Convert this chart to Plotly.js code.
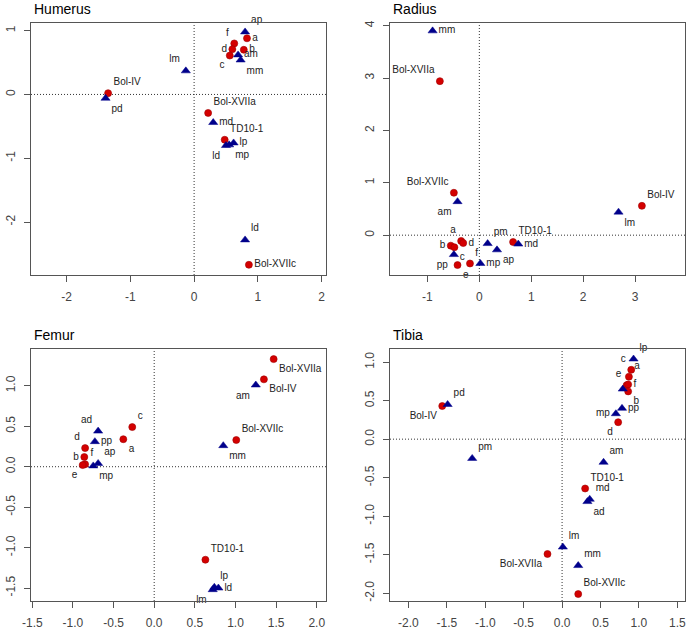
<!DOCTYPE html>
<html>
<head>
<meta charset="utf-8">
<script src="https://cdn.plot.ly/plotly-3.0.1.min.js"></script>
<style>html,body{margin:0;padding:0;background:#fff}#chart{width:689px;height:631px}</style>
</head>
<body>
<div id="chart"></div>
<script>
// ---------------- DATA ----------------
// Humerus
var humSpecLabels = ["a","f","d","b","c","Bol-IV","Bol-XVIIa","TD10-1","Bol-XVIIc"];
var humSpecX = [0.83,0.63,0.60,0.78,0.56,-1.35,0.22,0.48,0.86];
var humSpecY = [0.88,0.80,0.71,0.70,0.61,0.02,-0.29,-0.71,-2.67];
var humVarLabels = ["ap","am","mm","lm","pd","md","lp","mp","ld","ld"];
var humVarX = [0.80,0.69,0.73,-0.13,-1.39,0.30,0.62,0.55,0.50,0.80];
var humVarY = [0.98,0.62,0.54,0.37,-0.06,-0.44,-0.76,-0.79,-0.80,-2.28];

// Radius
var radSpecLabels = ["Bol-XVIIa","Bol-XVIIc","Bol-IV","a","d","b","c","e","f","TD10-1"];
var radSpecX = [-0.76,-0.49,3.13,-0.35,-0.31,-0.55,-0.48,-0.42,-0.18,0.65];
var radSpecY = [2.94,0.81,0.56,-0.11,-0.15,-0.20,-0.23,-0.57,-0.54,-0.13];
var radVarLabels = ["mm","am","lm","pp","mp","pm","ap","md"];
var radVarX = [-0.90,-0.42,2.68,-0.49,0.02,0.16,0.34,0.75];
var radVarY = [3.90,0.64,0.44,-0.37,-0.54,-0.16,-0.28,-0.17];

// Femur
var femSpecLabels = ["Bol-XVIIa","Bol-IV","c","a","d","b","f","e","Bol-XVIIc","TD10-1"];
var femSpecX = [1.47,1.35,-0.27,-0.38,-0.85,-0.86,-0.85,-0.88,1.01,0.63];
var femSpecY = [1.33,1.08,0.49,0.34,0.23,0.12,0.03,0.02,0.33,-1.15];
var femVarLabels = ["am","ad","pp","mm","ap","mp","lp","ld","lm"];
var femVarX = [1.25,-0.69,-0.73,0.85,-0.69,-0.75,0.74,0.79,0.72];
var femVarY = [1.01,0.44,0.31,0.26,0.04,0.01,-1.49,-1.50,-1.52];

// Tibia
var tibSpecLabels = ["c","a","e","f","b","d","Bol-IV","TD10-1","Bol-XVIIa","Bol-XVIIc"];
var tibSpecX = [0.90,0.87,0.84,0.86,0.86,0.73,-1.56,0.30,-0.19,0.21];
var tibSpecY = [0.90,0.81,0.70,0.71,0.62,0.22,0.43,-0.64,-1.49,-2.01];
var tibVarLabels = ["lp","","pp","mp","pd","pm","am","md","ad","lm","mm"];
var tibVarX = [0.93,0.79,0.78,0.70,-1.49,-1.17,0.54,0.36,0.33,0.01,0.21];
var tibVarY = [1.04,0.65,0.40,0.33,0.45,-0.25,-0.30,-0.78,-0.81,-1.40,-1.64];

var panelTitles = ["Humerus","Radius","Femur","Tibia"];

// ---------------- STYLE (label placement) ----------------
var humSpecPos = ["middle right","top left","middle left","middle right","bottom left","top right","top right","top right","middle right"];
var humVarPos = ["top right","middle right","bottom right","top left","bottom right","middle right","middle right","bottom right","bottom left","top right"];
var radSpecPos = ["top left","top left","top right","top left","middle right","middle left","bottom right","bottom right","top right","top right"];
var radVarPos = ["middle right","bottom left","bottom right","bottom left","middle right","top right","bottom right","middle right"];
var femSpecPos = ["bottom right","bottom right","top right","bottom right","top left","middle left","top right","bottom left","top right","top right"];
var femVarPos = ["bottom left","top left","middle right","bottom right","top right","bottom right","top right","middle right","bottom left"];
var tibSpecPos = ["top left","top right","top left","middle right","bottom right","bottom left","bottom left","top right","bottom left","top right"];
var tibVarPos = ["top right","middle right","middle right","middle left","top right","top right","top right","top right","bottom right","top right","top right"];

var FONT = "Liberation Sans, Arial, sans-serif";
var RED = "#D40000", BLUE = "#00008B";

function specTrace(lbl, x, y, pos, ax) {
  return {type:"scatter", mode:"markers+text", x:x, y:y, text:lbl, textposition:pos,
    xaxis:"x"+ax, yaxis:"y"+ax, cliponaxis:false, hoverinfo:"skip", showlegend:false,
    marker:{symbol:"circle", size:7, color:RED, line:{color:"#A00000", width:0.6}},
    textfont:{family:FONT, size:10, color:"#222"}};
}
function varTrace(lbl, x, y, pos, ax) {
  return {type:"scatter", mode:"markers+text", x:x, y:y, text:lbl, textposition:pos,
    xaxis:"x"+ax, yaxis:"y"+ax, cliponaxis:false, hoverinfo:"skip", showlegend:false,
    marker:{symbol:"triangle-up", size:8, color:BLUE, line:{color:BLUE, width:0.5}},
    textfont:{family:FONT, size:10, color:"#222"}};
}

var data = [
  specTrace(humSpecLabels, humSpecX, humSpecY, humSpecPos, ""),
  varTrace(humVarLabels, humVarX, humVarY, humVarPos, ""),
  specTrace(radSpecLabels, radSpecX, radSpecY, radSpecPos, "2"),
  varTrace(radVarLabels, radVarX, radVarY, radVarPos, "2"),
  specTrace(femSpecLabels, femSpecX, femSpecY, femSpecPos, "3"),
  varTrace(femVarLabels, femVarX, femVarY, femVarPos, "3"),
  specTrace(tibSpecLabels, tibSpecX, tibSpecY, tibSpecPos, "4"),
  varTrace(tibVarLabels, tibVarX, tibVarY, tibVarPos, "4")
];

var W = 689, H = 631;
function ax(domain, range, vals, txt, anchor, isY) {
  var a = {domain:domain, range:range, anchor:anchor, showgrid:false, zeroline:false,
    showline:true, mirror:true, linecolor:"#555", linewidth:1,
    ticks:"outside", ticklen:6, tickcolor:"#555", tickwidth:1,
    tickmode:"array", tickvals:vals, ticktext:txt,
    tickfont:{family:FONT, size:12, color:"#444"}, fixedrange:true};
  if (isY) { a.tickangle = -90; a.ticklabelstandoff = 4; }
  else { a.ticklabelstandoff = 5; }
  return a;
}
var xL = [31/W, 326/W], xR = [390/W, 685/W];
var yT = [(H-275)/H, (H-23)/H], yB = [(H-601)/H, (H-349)/H];

var layout = {
  width:W, height:H, margin:{l:0,r:0,t:0,b:0}, paper_bgcolor:"#fff", plot_bgcolor:"#fff",
  showlegend:false,
  xaxis: ax(xL, [-2.56, 2.07], [-2,-1,0,1,2], ["-2","-1","0","1","2"], "y", false),
  yaxis: ax(yT, [-2.83, 1.12], [-2,-1,0,1], ["-2","-1","0","1"], "x", true),
  xaxis2: ax(xR, [-1.72, 3.96], [-1,0,1,2,3], ["-1","0","1","2","3"], "y2", false),
  yaxis2: ax(yT, [-0.76, 4.05], [0,1,2,3,4], ["0","1","2","3","4"], "x2", true),
  xaxis3: ax(xL, [-1.516, 2.114], [-1.5,-1,-0.5,0,0.5,1,1.5,2], ["-1.5","-1.0","-0.5","0.0","0.5","1.0","1.5","2.0"], "y3", false),
  yaxis3: ax(yB, [-1.66, 1.455], [-1.5,-1,-0.5,0,0.5,1], ["-1.5","-1.0","-0.5","0.0","0.5","1.0"], "x3", true),
  xaxis4: ax(xR, [-2.24, 1.60], [-2,-1.5,-1,-0.5,0,0.5,1,1.5], ["-2.0","-1.5","-1.0","-0.5","0.0","0.5","1.0","1.5"], "y4", false),
  yaxis4: ax(yB, [-2.10, 1.17], [-2,-1.5,-1,-0.5,0,0.5,1], ["-2.0","-1.5","-1.0","-0.5","0.0","0.5","1.0"], "x4", true),
  shapes: [],
  annotations: []
};
var axIds = ["", "2", "3", "4"];
axIds.forEach(function(id){
  layout.shapes.push({type:"line", xref:"x"+id, yref:"y"+id+" domain", x0:0, x1:0, y0:0, y1:1,
    line:{color:"#333", width:1, dash:"1px,2px"}, layer:"below"});
  layout.shapes.push({type:"line", xref:"x"+id+" domain", yref:"y"+id, x0:0, x1:1, y0:0, y1:0,
    line:{color:"#333", width:1, dash:"1px,2px"}, layer:"below"});
});
var titlePos = [[32, 9], [391, 9], [32, 335], [391, 335]];
panelTitles.forEach(function(t, i){
  layout.annotations.push({text:t, xref:"paper", yref:"paper", x:titlePos[i][0]/W, y:(H-titlePos[i][1])/H,
    xanchor:"left", yanchor:"middle", showarrow:false, font:{family:FONT, size:14, color:"#000"}});
});

Plotly.newPlot("chart", data, layout, {staticPlot:true, displayModeBar:false});
</script>
</body>
</html>
